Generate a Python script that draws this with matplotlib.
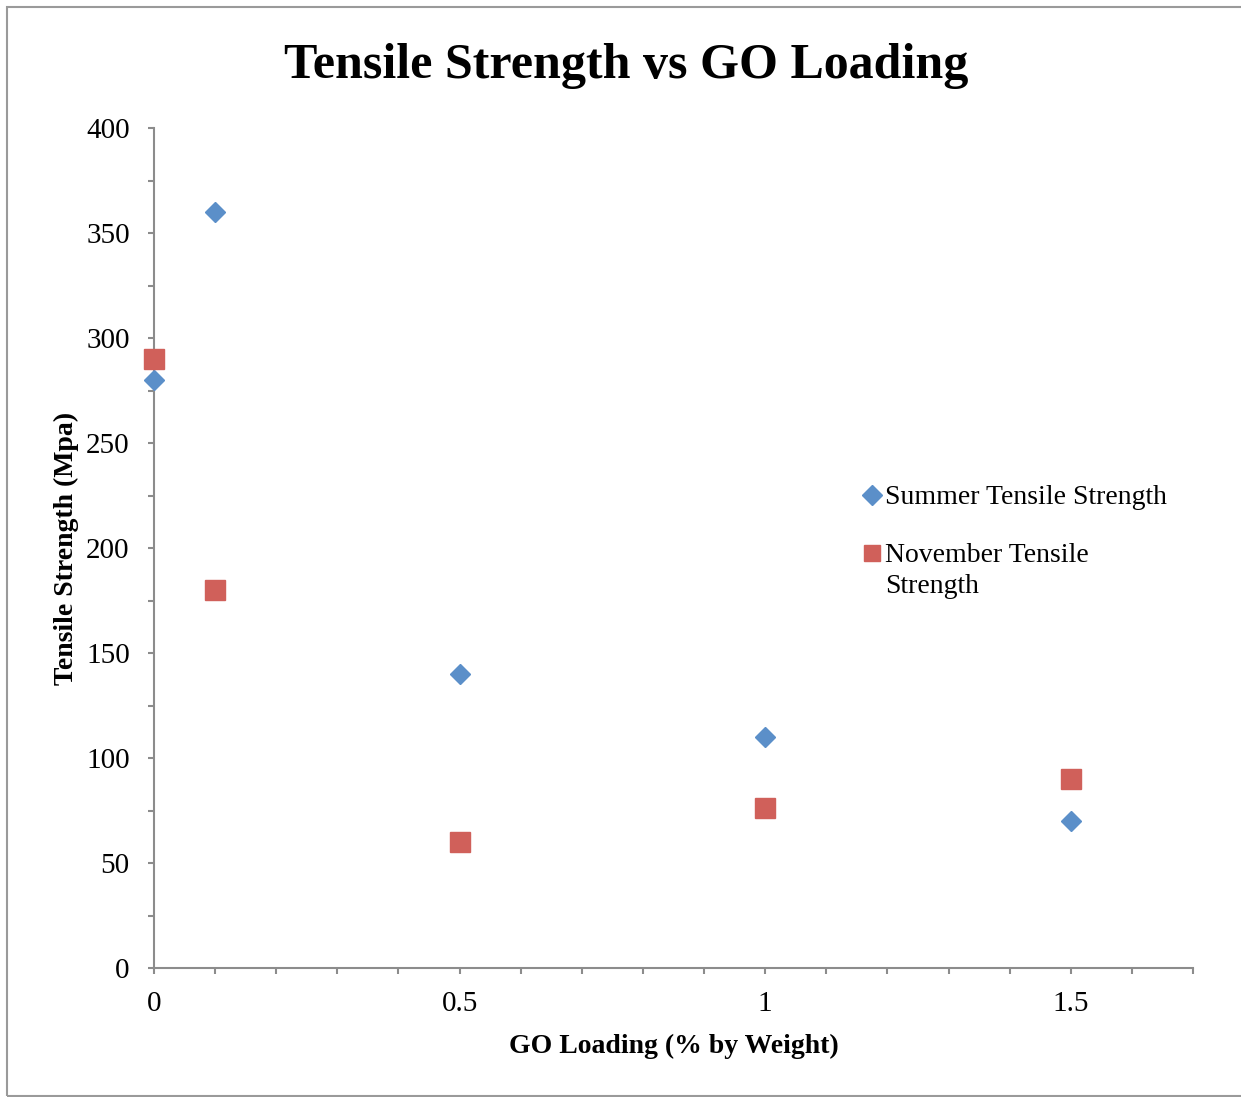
import matplotlib
matplotlib.use("Agg")
import matplotlib.pyplot as plt
from matplotlib.ticker import MultipleLocator, FixedLocator
from matplotlib.patches import Rectangle
from matplotlib.lines import Line2D

# GO loading (% by weight) and measured tensile strength (MPa)
go_loading = [0, 0.1, 0.5, 1, 1.5]
summer_strength = [280, 360, 140, 110, 70]
november_strength = [290, 180, 60, 76, 90]

x_tick_values = [0, 0.5, 1, 1.5]
x_tick_labels = ["0", "0.5", "1", "1.5"]

series_names = ["Summer Tensile Strength", "November Tensile\nStrength"]

plt.rcParams["font.family"] = ["Liberation Serif", "DejaVu Serif"]

fig = plt.figure(figsize=(12.41, 10.97), dpi=100)
ax = fig.add_axes([154 / 1241, 129 / 1097, (1193 - 154) / 1241, (968 - 128) / 1097])

axis_grey = "#8c8c8c"
blue = "#5b8fc9"
red = "#d0605a"

ax.plot(go_loading, summer_strength, linestyle="none", marker="D",
        markersize=10, color=blue, markeredgecolor=blue, clip_on=False,
        zorder=3)
ax.plot(go_loading, november_strength, linestyle="none", marker="s",
        markersize=14, color=red, markeredgecolor=red, clip_on=False,
        zorder=3)

ax.set_xlim(0, 1.7)
ax.set_ylim(0, 400)

ax.xaxis.set_major_locator(FixedLocator(x_tick_values))
ax.set_xticklabels(x_tick_labels)
ax.xaxis.set_minor_locator(MultipleLocator(0.1))
ax.yaxis.set_major_locator(MultipleLocator(50))
ax.yaxis.set_minor_locator(MultipleLocator(25))

for side in ("top", "right"):
    ax.spines[side].set_visible(False)
for side in ("left", "bottom"):
    ax.spines[side].set_color(axis_grey)
    ax.spines[side].set_linewidth(1.5)

ax.tick_params(axis="both", which="both", direction="out", color=axis_grey,
               width=1.5, length=4.5, labelsize=21, labelcolor="black")
ax.tick_params(axis="x", pad=12)
ax.tick_params(axis="y", pad=13)

ax.set_xlabel("GO Loading (% by Weight)", fontsize=20, fontweight="bold", labelpad=12)
ax.set_ylabel("Tensile Strength (Mpa)", fontsize=20, fontweight="bold", labelpad=5)

fig.text(626 / 1241, 1 - 66 / 1097, "Tensile Strength vs GO Loading",
         ha="center", va="center", fontsize=36, fontweight="bold")

# Legend: marker beside the first line of each entry
legend_rows = [(495, "D", 10, blue), (553, "s", 11.5, red)]
for (ypix, mk, ms, col), name in zip(legend_rows, series_names):
    yf = 1 - ypix / 1097
    fig.add_artist(Line2D([872 / 1241], [yf], transform=fig.transFigure,
                          marker=mk, markersize=ms, color=col,
                          markeredgecolor=col, linestyle="none"))
    fig.text(885 / 1241, yf + 10 / 1097, name, ha="left", va="top",
             fontsize=20, linespacing=1.32)

# Thin grey frame around the whole chart area
fig.patches.append(Rectangle((7 / 1241, 1 / 1097), 1.2, 1 - 7 / 1097 - 1 / 1097,
                             transform=fig.transFigure, fill=False,
                             edgecolor="#9a9a9a", linewidth=1.5))

fig.savefig("out.png", dpi=100)
